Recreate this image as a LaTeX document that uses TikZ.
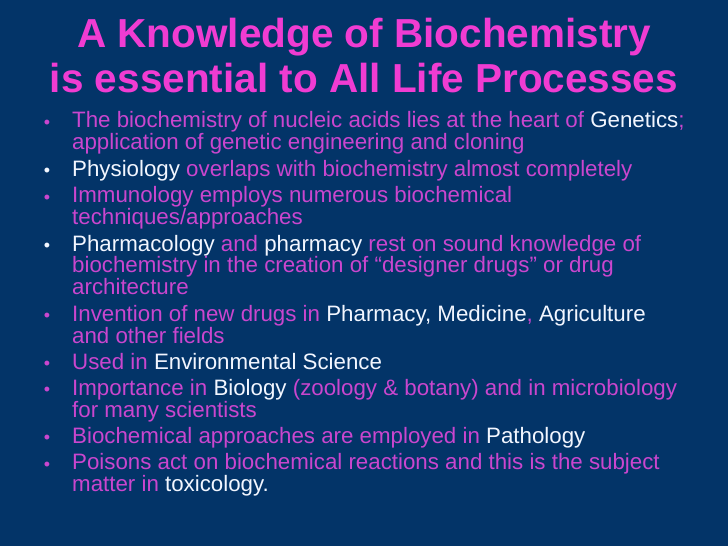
\documentclass[tikz,border=0pt]{standalone}
\usepackage{fontspec}
\setmainfont{Liberation Sans}
\usetikzlibrary{positioning}
\definecolor{slidebg}{RGB}{3,52,104}
\definecolor{titlepink}{RGB}{240,60,210}
\definecolor{textpink}{RGB}{202,70,206}
\definecolor{textwhite}{RGB}{242,246,255}
\tikzset{
    heading/.style={
    anchor=base,align=center,text=titlepink,inner sep=0pt,
    font=\fontsize{40.5}{45}\selectfont\bfseries
    },
    item/.style={
    anchor=base west,align=left,text=textpink,inner sep=0pt,
    font=\fontsize{22.3}{21.5}\selectfont
    },
    dot/.style={
    anchor=base,inner sep=0pt,font=\fontsize{18}{18}\selectfont
    },
}
\newcommand{\wt}[1]{\textcolor{textwhite}{#1}}

\begin{document}
\begin{tikzpicture}[x=1pt, y=-1pt]
   \fill[slidebg] (0,0) rectangle (728,546);
   \useasboundingbox (0,0) rectangle (728,546);

   % base of a node with several lines is the base of its last line
   \node[heading] (title) at (364,92) {A Knowledge of Biochemistry\\is essential to All Life Processes};

   % bullet items
   \node[item] (b1) at (72,149) {The biochemistry of nucleic acids lies at the heart of \wt{Genetics};\\application of genetic engineering and cloning};
   \node[item] (b2) at (72,176) {\wt{Physiology} overlaps with biochemistry almost completely};
   \node[item] (b3) at (72,224) {Immunology employs numerous biochemical\\techniques/approaches};
   \node[item] (b4) at (72,294) {\wt{Pharmacology} and \wt{pharmacy} rest on sound knowledge of\\biochemistry in the creation of “designer drugs” or drug\\architecture};
   \node[item] (b5) at (72,343) {Invention of new drugs in \wt{Pharmacy, Medicine}, \wt{Agriculture}\\and other fields};
   \node[item] (b6) at (72,369) {Used in \wt{Environmental Science}};
   \node[item] (b7) at (72,417) {Importance in \wt{Biology} (zoology \& botany) and in microbiology\\for many scientists};
   \node[item] (b8) at (72,443) {Biochemical approaches are employed in \wt{Pathology}};
   \node[item] (b9) at (72,491) {Poisons act on biochemical reactions and this is the subject\\matter in \wt{toxicology.}};

   % bullet marks, on the first line of each item
   \foreach \n/\c/\y in {1/textpink/128,2/textwhite/176,3/textpink/203,4/textwhite/251,5/textpink/321,
                         6/textpink/369,7/textpink/395,8/textpink/443,9/textpink/470}
      \node[dot,text=\c] (d\n) at (47,\y) {•};
\end{tikzpicture}
\end{document}
